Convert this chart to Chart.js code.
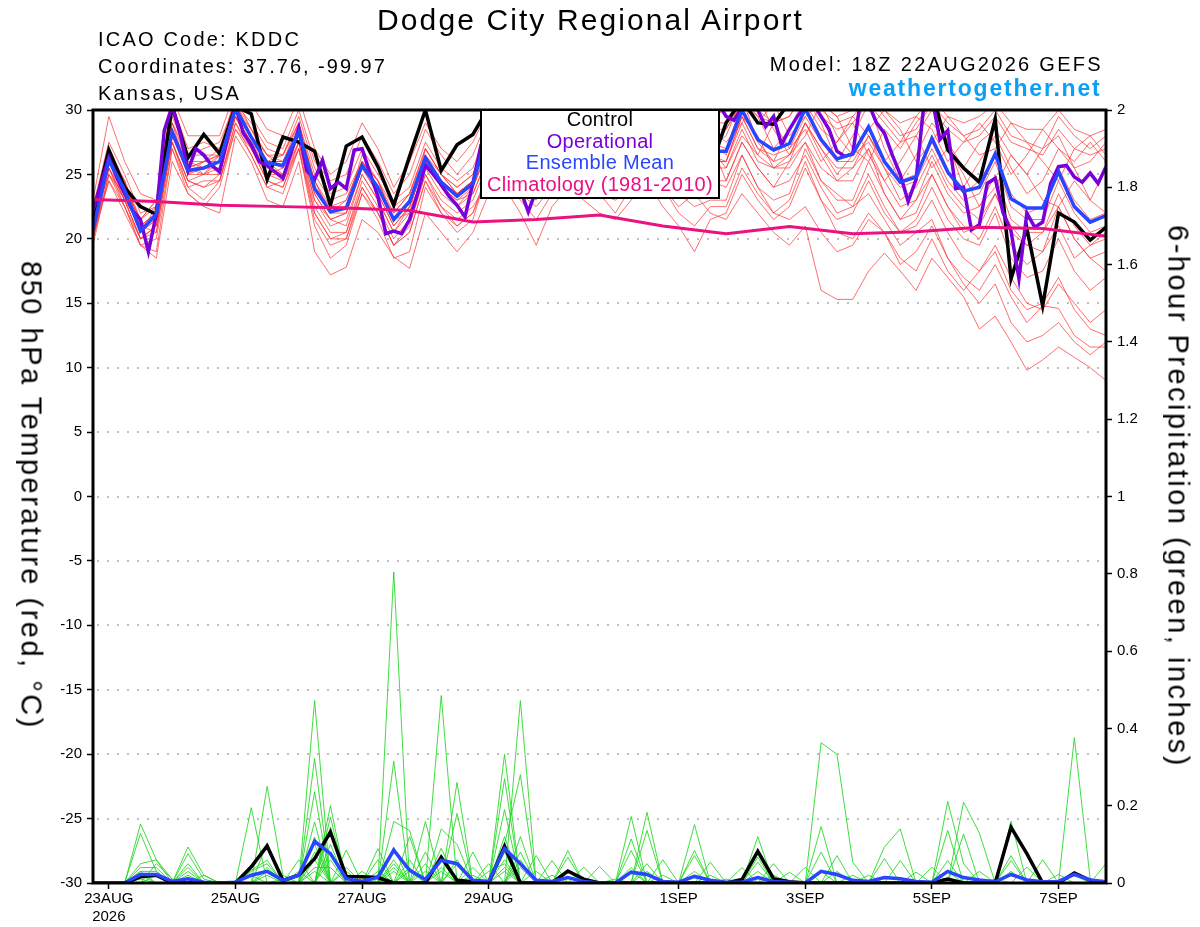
<!DOCTYPE html>
<html>
<head>
<meta charset="utf-8">
<title>Dodge City Regional Airport</title>
<script src="https://cdn.jsdelivr.net/npm/chart.js@4.4.1/dist/chart.umd.min.js"></script>
<style>
  html, body { margin: 0; padding: 0; background: #fff; }
  #wrap { position: relative; width: 1200px; height: 927px; overflow: hidden;
          font-family: 'Liberation Sans', Arial, Helvetica, sans-serif; color: #000; }
  #wrap canvas { position: absolute; left: 0; top: 0; }
  .txt { position: absolute; white-space: nowrap; line-height: 1; }
  #title { left: 0; width: 1181px; top: 4.6px; text-align: center; font-size: 30px; letter-spacing: 2.1px; }
  .info { left: 98px; font-size: 20px; letter-spacing: 2.2px; }
  #model { right: 97px; top: 53.8px; font-size: 20px; letter-spacing: 2.3px; }
  #site { right: 98.5px; top: 77.2px; font-size: 23px; font-weight: bold; letter-spacing: 1.8px; color: #0ba0f8; }
  .axtitle { position: absolute; width: 990px; height: 29px; line-height: 29px; font-size: 29px;
             text-align: center; white-space: nowrap; letter-spacing: 2.5px; transform: rotate(90deg); }
  #legbox { position: absolute; left: 480px; top: 109px; width: 236px; height: 86px;
            border: 2px solid #000; background: #fff; }
  #legtext { position: absolute; left: 480px; top: 108.9px; width: 240px; text-align: center;
             font-size: 20px; line-height: 21.7px; letter-spacing: 0.3px; white-space: nowrap; }
</style>
</head>
<body>
<div id="wrap">
  <canvas id="chart" width="1200" height="927"></canvas>
  <div class="txt" id="title">Dodge City Regional Airport</div>
  <div class="txt info" style="top:28.8px">ICAO Code: KDDC</div>
  <div class="txt info" style="top:55.8px;letter-spacing:2px">Coordinates: 37.76, -99.97</div>
  <div class="txt info" style="top:83.1px">Kansas, USA</div>
  <div class="txt" id="model">Model: 18Z 22AUG2026 GEFS</div>
  <div class="txt" id="site">weathertogether.net</div>
  <div class="axtitle" style="left:-464px;top:480.5px">850 hPa Temperature (red, °C)</div>
  <div class="axtitle" style="left:683px;top:481.5px">6-hour Precipitation (green, inches)</div>
  <div id="legbox"></div>
  <div id="legtext">
    <div style="color:#000">Control</div>
    <div style="color:#7a00d9">Operational</div>
    <div style="color:#2846ff">Ensemble Mean</div>
    <div style="color:#ea1282">Climatology (1981-2010)</div>
  </div>
</div>
<script>
// forecast hours after 18Z 22AUG2026
const FCST_HOURS = [0,6,12,18,24,30,36,42,48,54,60,66,72,78,84,90,96,102,108,114,120,126,132,138,144,150,156,162,168,174,180,186,192,198,204,210,216,222,228,234,240,246,252,258,264,270,276,282,288,294,300,306,312,318,324,330,336,342,348,354,360,366,372,378,384];
const OPER_HOURS = [0,3,6,9,12,15,18,21,24,27,30,33,36,39,42,45,48,51,54,57,60,63,66,69,72,75,78,81,84,87,90,93,96,99,102,105,108,111,114,117,120,123,126,129,132,135,138,141,144,147,150,153,156,159,162,165,168,171,174,177,180,183,186,189,192,195,198,201,204,207,210,213,216,219,222,225,228,231,234,237,240,243,246,249,252,255,258,261,264,267,270,273,276,279,282,285,288,291,294,297,300,303,306,309,312,315,318,321,324,327,330,333,336,339,342,345,348,351,354,357,360,363,366,369,372,375,378,381,384];
const CLIM_HOURS = [0,24,48,72,96,120,144,168,192,216,240,264,288,312,336,360,384];

// x axis labels
const TICK_HOURS = [6, 54, 102, 150, 222, 270, 318, 366];
const TICK_LABELS = [['23AUG', '2026'], '25AUG', '27AUG', '29AUG', '1SEP', '3SEP', '5SEP', '7SEP'];

// 850 hPa temperature (C)
const CLIMATOLOGY = [23.05,22.9,22.6,22.5,22.4,22.2,21.3,21.5,21.85,21.0,20.4,20.95,20.4,20.55,20.9,20.8,20.2];
const CONTROL_T = [21.8,26.9,24.0,22.5,21.9, 30.3,26.3,28.1,26.6,30.3, 29.7,24.6,27.9,27.5,26.8, 22.6,27.2,27.9,25.6,22.6, 26.4,30.0,25.3,27.3,28.1, 30.2,29.0,30.5,29.5,28.0, 29.0,30.0,31.0,30.0,29.0, 30.5,30.0,29.0,28.5,25.5, 29.0,30.8,29.0,28.9,30.6, 31.0,32.0,31.5,32.0,31.0, 32.5,31.5,32.0,31.5,26.9, 25.5,24.4,29.3,16.9,20.8, 14.8,22.0,21.3,19.9,20.9];
const MEAN_T = [20.7,26.1,23.8,20.6,21.9, 28.3,25.3,25.5,26.0,30.1, 27.9,25.9,25.7,28.3,23.9, 22.1,22.4,25.7,24.0,21.5, 22.9,26.3,24.4,23.3,24.3, 28.5,27.5,26.0,25.5,26.5, 27.5,27.0,26.0,25.5,27.0, 28.0,27.0,26.0,25.5,26.8, 26.8,30.0,27.7,26.9,27.4, 30.1,27.7,26.2,26.6,28.7, 26.0,24.4,24.8,27.8,25.2, 23.7,24.0,26.6,23.1,22.4, 22.4,25.2,22.5,21.3,21.8];
const OPERATIONAL_T = [
  22.2,24.3,26.3,24.8,23.5,22.2,21.5,19.0,21.9,28.4,
  30.3,28.2,25.3,27.0,26.5,25.7,25.2,27.9,30.3,28.2,
  27.3,26.0,25.7,25.2,24.7,26.6,28.6,25.3,24.6,26.1,
  23.9,24.4,23.9,26.9,27.0,25.1,23.3,20.4,20.6,20.4,
  21.5,23.5,25.7,25.0,24.2,23.3,22.6,21.7,24.3,27.2,
  27.0,28.5,27.0,25.5,23.8,22.1,23.8,25.5,27.0,28.0,
  27.5,26.5,27.0,28.5,29.5,28.8,27.5,27.0,28.0,29.0,
  29.5,28.5,27.8,28.5,29.5,30.5,29.8,29.0,30.0,30.5,
  29.5,29.2,30.2,31.0,30.0,28.7,29.5,27.3,28.5,29.5,
  30.3,30.5,29.5,28.5,26.8,26.4,26.6,30.8,30.5,29.0,
  28.2,26.5,25.0,22.9,24.6,30.5,31.0,27.7,28.4,23.9,
  24.0,20.7,21.1,24.3,24.7,22.0,20.6,16.9,22.0,20.9,
  21.3,24.3,25.6,25.7,24.8,24.4,25.1,24.3,25.6];

// ensemble members, temperature
const T_M01 = [22.5,27.5,25.0,22.0,22.5, 30.5,27.0,27.5,27.0,31.0, 29.5,27.5,27.0,30.0,26.0, 24.5,25.0,28.0,26.0,23.5, 25.0,28.5,26.5,25.0,26.5, 29.5,30.5,29.0,28.0,29.5, 30.5,31.0,30.0,29.0,30.5, 31.5,30.5,29.5,29.0,29.0, 29.0,31.5,30.0,29.0,29.5, 31.5,30.0,29.0,29.5,31.0, 29.5,28.0,28.5,30.5,29.0, 28.0,28.5,30.0,28.0,27.5, 27.0,29.5,28.0,27.0,28.0];
const T_M02 = [19.5,25.0,22.5,19.5,18.5, 26.0,23.5,22.5,24.0,28.5, 26.5,24.0,23.5,27.0,21.5, 19.5,20.0,23.5,22.0,19.5, 20.5,24.5,22.0,21.0,22.0, 25.0,25.5,24.0,23.5,24.5, 25.0,24.5,23.5,23.0,24.0, 25.0,24.0,22.5,23.5,22.0, 21.5,23.5,22.0,20.5,19.5, 21.0,16.0,15.3,15.3,17.5, 18.9,17.5,16.0,18.5,17.0, 15.5,13.0,14.0,12.0,9.8, 10.6,11.6,10.8,10.0,9.0];
const T_M03 = [21.0,25.5,23.0,20.0,21.0, 27.5,24.5,24.0,25.0,29.5, 27.0,25.0,24.5,27.5,22.5, 20.5,20.5,24.5,22.5,20.0, 21.5,25.0,23.0,22.0,23.0, 26.0,26.5,25.0,24.5,25.5, 26.5,27.0,26.0,25.0,26.5, 27.0,26.0,24.5,24.0,24.5, 24.0,26.5,24.0,22.0,21.5, 22.5,20.5,19.0,19.5,21.5, 20.5,18.0,19.0,21.0,18.5, 17.0,16.0,18.0,15.5,13.5, 14.8,14.6,12.5,11.6,11.6];
const T_M04 = [20.0,26.5,24.5,21.5,23.0, 29.0,25.0,26.0,27.0,30.5, 28.5,26.5,26.0,29.0,24.5, 22.0,22.5,26.5,24.5,21.5, 22.0,27.0,25.0,23.5,24.5, 28.0,28.5,27.0,26.0,28.0, 29.0,30.5,29.0,27.5,29.5, 30.5,29.0,28.5,28.0,27.5, 28.5,30.5,29.0,30.5,28.0, 29.5,30.5,28.0,26.5,28.5, 30.0,28.5,26.0,27.5,29.5, 28.0,26.5,27.0,29.0,27.5, 26.0,24.5,27.0,28.0,26.5];
const T_M05 = [21.5,25.0,23.5,21.0,20.5, 28.0,26.0,25.0,25.5,29.5, 27.5,26.0,25.0,28.0,23.0, 21.5,21.0,25.0,23.0,20.5, 22.5,26.0,24.0,22.5,24.0, 27.0,27.5,26.5,25.0,27.0, 28.0,28.5,27.0,26.5,28.0, 29.0,28.0,27.0,26.0,26.0, 26.0,29.5,27.0,26.5,27.0, 29.5,27.5,26.0,26.0,28.0, 26.0,24.5,25.0,27.5,25.0, 23.5,24.5,26.5,23.5,22.0, 22.5,25.5,23.0,21.5,22.0];
const T_M06 = [20.5,24.5,22.0,19.5,19.0, 27.0,24.0,23.0,24.5,28.5, 27.0,24.5,24.0,27.0,21.0, 18.5,19.5,23.5,21.5,18.5, 19.0,24.0,22.0,20.5,21.5, 25.5,26.0,24.0,23.0,25.0, 26.0,26.5,25.0,24.0,26.5, 27.5,26.0,25.0,25.0,25.5, 25.5,28.5,26.0,25.5,26.0, 29.0,26.5,24.5,24.5,27.0, 24.5,22.5,23.0,26.0,23.5, 22.0,22.5,25.0,21.5,20.5, 20.5,23.5,21.0,19.5,20.0];
const T_M07 = [21.0,27.0,24.5,20.5,22.5, 29.5,26.5,26.5,26.5,31.0, 28.5,26.5,26.5,29.0,25.0, 23.0,23.5,26.0,24.5,22.5, 23.5,27.0,25.0,24.0,25.0, 28.5,29.0,28.0,27.5,28.5, 29.5,30.0,29.0,28.5,29.5, 30.5,29.5,28.5,28.0,28.5, 27.5,29.0,31.0,28.5,26.5, 28.0,30.5,29.5,27.0,26.0, 28.5,27.0,29.0,30.5,27.5, 25.5,27.5,28.5,26.5,25.0, 27.0,28.0,25.5,26.0,27.5];
const T_M08 = [20.0,25.5,23.5,20.5,21.5, 28.0,25.0,25.5,25.5,29.5, 27.5,25.0,25.5,28.0,23.5, 21.5,22.0,25.5,23.5,21.0, 22.5,26.0,24.0,23.0,23.5, 26.5,27.0,25.5,24.5,25.5, 27.0,27.5,26.0,25.0,27.0, 28.0,26.5,25.0,24.5,24.5, 24.5,27.5,25.5,24.0,24.5, 26.5,24.0,22.0,22.5,25.0, 22.5,20.5,21.0,23.0,20.5, 18.5,17.5,19.0,16.0,14.5, 15.0,17.0,14.5,13.0,12.5];
const T_M09 = [22.0,26.0,23.0,21.0,22.0, 28.5,25.5,25.0,26.5,30.0, 28.0,26.0,25.5,28.5,24.0, 22.0,22.0,25.5,24.0,21.5, 23.0,26.5,24.5,23.5,24.5, 27.5,28.0,26.5,26.0,27.0, 28.0,28.5,27.5,26.5,28.0, 29.0,28.0,27.0,26.5,27.0, 25.5,28.0,26.5,29.0,27.0, 28.5,26.0,27.5,29.0,26.5, 24.5,26.0,28.0,25.5,27.0, 25.0,22.5,24.0,26.5,25.0, 23.0,22.5,24.5,23.0,25.5];
const T_M10 = [23.0,29.5,26.0,23.5,23.0, 31.0,28.0,28.0,28.0,31.5, 30.5,28.5,28.0,31.0,27.0, 25.0,26.0,29.0,27.0,24.0, 26.0,29.0,27.0,26.0,27.5, 30.0,31.0,29.5,29.0,30.0, 31.0,32.0,30.5,29.5,31.0, 32.0,31.0,30.0,29.5,29.5, 30.0,32.0,30.5,30.0,30.5, 32.0,30.5,29.5,30.0,31.5, 30.0,29.0,29.5,31.0,29.5, 29.0,29.5,30.5,29.0,28.5, 28.5,30.0,28.5,28.0,28.5];
const T_M11 = [20.0,24.5,22.5,19.5,20.0, 27.0,23.5,22.5,22.0,28.0, 26.0,23.0,22.5,26.0,19.0, 17.2,17.8,21.5,20.5,18.6, 17.7,22.0,20.5,19.0,20.5, 23.5,24.5,23.0,21.5,23.5, 25.0,25.5,24.5,23.5,24.5, 26.0,25.0,23.5,22.5,23.0, 23.0,26.5,24.0,23.0,23.5, 27.0,24.5,23.0,23.0,26.0, 23.5,21.5,22.0,25.0,22.5, 20.5,21.0,23.5,20.5,19.5, 19.0,22.5,20.0,18.5,19.0];
const T_M12 = [21.5,26.5,24.0,21.5,22.5, 29.0,26.0,26.0,26.0,30.5, 28.0,26.5,25.5,28.5,24.5, 22.5,23.0,26.0,24.0,22.0, 23.5,26.5,24.5,23.5,24.5, 27.5,28.0,27.0,26.5,27.5, 28.5,29.0,28.0,27.5,28.5, 29.5,28.5,27.5,27.0,27.0, 28.0,31.0,27.5,26.0,28.5, 31.0,29.0,26.0,28.0,30.5, 27.0,24.5,26.5,29.0,27.5, 24.0,26.0,28.0,25.5,23.5, 24.5,27.0,25.5,23.0,22.0];
const T_M13 = [21.0,25.5,22.5,20.0,21.0, 27.5,24.0,24.5,24.5,29.0, 26.5,24.0,24.5,27.0,22.0, 20.0,20.5,24.0,22.0,19.5, 21.0,25.0,22.5,21.5,22.5, 24.5,24.0,22.0,19.5,22.5, 24.0,23.0,22.0,21.5,23.0, 24.5,22.5,21.0,19.0,21.5, 22.0,25.0,23.0,21.5,22.5, 25.5,23.0,21.5,22.0,24.5, 22.0,20.5,21.5,24.0,21.5, 20.0,19.5,22.0,18.5,17.0, 17.5,20.0,17.5,16.0,17.0];
const T_M14 = [22.0,27.0,24.0,21.0,21.5, 28.5,25.5,26.0,26.5,30.0, 28.5,26.0,26.5,29.0,24.0, 22.0,23.0,26.0,24.5,22.0, 23.5,27.0,25.0,24.0,25.0, 28.0,28.5,27.5,27.0,28.0, 29.0,29.5,28.5,28.0,29.0, 30.0,29.0,28.0,27.5,27.5, 26.5,29.5,28.0,25.5,26.5, 29.0,27.0,25.0,26.5,27.5, 25.5,23.0,24.0,26.5,24.0, 22.5,21.5,23.5,21.0,19.5, 20.5,22.5,20.0,18.5,17.5];
const T_M15 = [20.5,26.0,23.5,20.5,21.5, 28.0,25.0,25.0,26.0,29.5, 27.5,25.5,25.0,28.0,23.5, 21.5,22.0,25.5,23.5,21.0, 22.5,26.0,24.0,23.0,24.0, 27.0,27.5,26.5,26.0,27.0, 28.0,28.5,27.5,26.5,28.0, 28.5,27.5,26.5,26.0,26.5, 26.0,29.0,26.5,25.5,25.5, 27.5,24.5,23.5,22.5,23.5, 21.5,19.5,20.5,21.5,18.5, 16.5,15.0,16.5,13.5,12.0, 12.5,13.5,12.0,11.0,12.0];
const T_M16 = [21.5,26.0,24.5,21.0,22.0, 28.5,26.0,25.5,26.5,30.5, 28.0,26.0,26.0,28.5,24.0, 22.5,22.5,25.5,24.0,21.5, 23.0,26.0,24.5,23.5,24.0, 27.5,27.5,27.0,26.5,27.0, 28.5,29.0,28.5,27.0,28.5, 29.5,28.5,27.5,27.0,27.5, 27.0,30.5,29.5,27.0,28.5, 30.5,28.5,27.5,29.5,28.0, 26.0,27.5,29.5,28.5,26.0, 27.5,29.0,27.5,25.0,26.5, 28.5,27.0,26.0,27.5,26.0];
const T_M17 = [21.0,26.5,24.0,21.5,23.0, 29.0,26.5,27.0,27.5,30.5, 29.0,27.0,26.5,29.5,25.5, 23.5,24.0,27.0,25.0,23.0, 24.0,27.5,25.5,24.5,25.5, 28.5,29.5,28.0,27.5,28.5, 29.5,30.5,29.5,28.5,30.0, 31.0,30.0,29.0,28.5,28.5, 28.5,31.0,29.5,29.0,29.5, 31.5,29.5,28.5,29.0,30.5, 29.0,27.5,28.0,30.0,28.5, 27.5,28.0,29.5,27.5,27.0, 26.5,28.5,27.0,26.5,27.0];
const T_M18 = [20.0,25.0,23.0,20.0,20.5, 27.5,24.5,24.0,24.5,29.0, 27.0,24.5,24.0,27.5,22.0, 20.0,20.0,24.0,22.0,19.5, 20.5,24.5,22.5,21.0,22.0, 25.5,25.0,23.5,22.5,24.0, 25.0,24.0,23.5,22.0,24.0, 25.5,24.0,22.0,21.0,22.5, 22.5,25.5,23.5,22.0,23.0, 26.0,23.0,20.5,20.0,22.0, 20.5,18.5,17.5,20.0,17.5, 16.0,17.5,19.5,17.0,15.0, 14.5,16.5,15.0,13.5,14.5];
const T_M19 = [22.0,26.5,23.5,21.0,22.0, 28.5,25.5,26.0,26.5,30.0, 28.0,26.0,26.0,28.5,24.5, 22.0,22.5,26.0,24.5,21.5, 23.0,26.5,25.0,23.5,24.5, 27.5,28.5,27.5,26.5,27.5, 28.5,29.5,28.5,27.5,28.5, 29.5,29.0,28.0,27.5,27.5, 24.5,27.5,25.5,24.0,26.0, 27.5,25.5,24.5,25.5,27.0, 23.5,21.5,23.0,25.0,22.5, 21.0,20.0,22.5,19.5,18.0, 19.0,21.0,18.5,19.5,20.5];
const T_M20 = [20.5,25.5,23.0,20.0,21.0, 27.5,24.5,25.0,25.0,29.5, 27.0,25.0,25.0,27.5,23.0, 21.0,21.5,25.0,23.0,20.5, 22.0,25.5,23.5,22.5,23.5, 26.5,27.0,26.0,25.5,26.5, 27.5,28.0,27.0,26.0,27.5, 28.5,27.5,26.5,26.0,26.0, 26.0,29.5,27.0,26.0,26.5, 29.0,27.0,25.5,25.5,28.0, 25.5,24.0,24.5,27.0,24.5, 23.0,23.5,26.0,22.5,21.5, 21.5,24.5,22.0,20.5,21.0];

// 6-hour precipitation (inches)
const CONTROL_P = [0,0,0,0.016,0.02, 0,0,0,0,0, 0.042,0.096,0.007,0.02,0.063, 0.132,0.017,0.016,0.014,0, 0,0,0.067,0.007,0.003, 0,0.095,0,0,0, 0.031,0.01,0,0,0, 0,0,0,0,0, 0,0.009,0.082,0.011,0.003, 0,0,0,0,0, 0,0,0,0,0.01, 0,0,0,0.144,0.076, 0,0,0.026,0.007,0];
const MEAN_P = [0,0,0,0.022,0.022, 0.004,0.011,0.002,0,0.002, 0.02,0.03,0.007,0.02,0.108, 0.076,0.011,0.004,0.015,0.085, 0.033,0.009,0.059,0.05,0.007, 0.004,0.089,0.05,0.007,0.004, 0.014,0.004,0,0,0.028, 0.022,0.004,0.002,0.017,0.007, 0.002,0.002,0.014,0.004,0.002, 0,0.03,0.022,0.007,0.004, 0.014,0.011,0.004,0.002,0.03, 0.014,0.008,0.003,0.022,0.008, 0.003,0.004,0.022,0.008,0.003];

// ensemble members, precipitation
const P_M01 = [0,0,0,0.153,0.06, 0,0,0,0,0.005, 0,0.02,0,0,0.236, 0,0,0,0.03,0, 0,0,0.03,0,0, 0,0.333,0,0,0, 0,0,0,0,0, 0.03,0,0,0,0, 0,0.01,0,0,0, 0,0,0,0,0, 0,0,0.028,0,0, 0,0,0,0,0, 0,0,0,0,0];
const P_M02 = [0,0,0,0.128,0.03, 0,0,0,0,0, 0.02,0,0,0,0.04, 0.04,0,0,0,0.805, 0,0,0,0,0, 0,0,0.04,0,0, 0,0,0,0.01,0, 0,0,0,0,0, 0,0,0.12,0,0, 0,0,0,0,0, 0,0,0,0.041,0, 0,0,0,0,0, 0,0,0,0,0];
const P_M03 = [0,0,0,0.05,0.06, 0.01,0,0,0,0, 0.03,0.05,0,0,0.03, 0,0.04,0,0,0.315, 0,0,0,0,0, 0,0.08,0,0,0, 0.084,0,0,0,0, 0,0,0,0,0, 0,0,0.067,0,0, 0,0,0,0,0, 0,0,0,0,0.211, 0.05,0,0,0,0, 0,0,0,0,0];
const P_M04 = [0,0,0,0.04,0.04, 0,0.04,0,0,0, 0,0,0,0,0.158, 0,0,0,0,0.159, 0.136,0,0,0,0, 0,0,0.06,0,0, 0,0,0,0,0.172, 0,0,0,0,0, 0,0,0.054,0,0, 0,0,0,0,0, 0,0,0,0,0.136, 0,0,0,0,0, 0,0,0,0,0];
const P_M05 = [0,0,0,0.03,0.03, 0,0.05,0,0,0, 0,0,0.01,0,0.119, 0,0,0,0,0.093, 0,0,0,0,0.02, 0,0.06,0,0,0, 0,0,0,0,0.114, 0,0,0,0,0, 0,0,0.03,0,0, 0,0,0,0,0, 0,0,0,0,0.058, 0,0,0,0,0, 0,0,0,0,0];
const P_M06 = [0,0,0,0.02,0, 0,0.02,0,0,0, 0,0,0,0.02,0.1, 0,0,0,0,0.06, 0,0,0,0,0, 0.03,0.05,0,0,0.02, 0,0,0,0,0.084, 0,0,0,0,0, 0,0,0,0.05,0, 0,0,0,0,0, 0,0,0,0,0.03, 0,0,0,0,0, 0,0,0,0,0];
const P_M07 = [0,0,0,0.03,0, 0,0,0,0,0, 0,0.04,0,0,0.08, 0,0,0,0.02,0, 0,0.159,0,0,0, 0,0.27,0,0,0, 0,0,0,0,0.04, 0,0,0,0,0, 0,0,0,0.02,0, 0,0,0,0,0, 0,0,0,0,0, 0.209,0.129,0,0,0, 0,0,0,0,0];
const P_M08 = [0,0,0,0.01,0, 0,0,0,0,0, 0,0.03,0,0,0.06, 0,0,0,0,0.05, 0,0,0,0.06,0, 0,0.19,0,0,0, 0,0,0,0,0, 0.183,0,0,0,0, 0,0,0,0,0.028, 0,0,0,0,0, 0,0,0,0,0, 0.127,0,0,0,0, 0,0,0,0,0];
const P_M09 = [0,0,0,0,0.05, 0.01,0,0,0,0, 0,0,0,0,0, 0.17,0,0,0,0.04, 0,0,0,0.05,0, 0,0.12,0,0,0, 0.067,0,0,0,0, 0.136,0,0,0,0, 0,0,0,0,0, 0.041,0,0,0,0, 0,0,0,0,0, 0,0.03,0,0,0, 0,0,0,0,0];
const P_M10 = [0,0,0,0,0.02, 0,0,0,0,0, 0,0,0,0,0, 0.145,0,0,0,0.03, 0,0,0.485,0,0, 0,0,0,0,0, 0,0.041,0,0,0, 0,0,0,0,0, 0,0,0,0,0, 0,0.363,0.333,0.054,0, 0,0,0,0,0, 0,0,0.01,0,0, 0,0,0,0,0];
const P_M11 = [0,0,0,0,0, 0,0.093,0.02,0,0, 0,0,0,0,0, 0.1,0,0,0,0, 0.04,0,0.14,0.1,0, 0,0,0,0.03,0, 0,0,0,0,0, 0,0.06,0,0,0, 0,0,0,0,0, 0,0.146,0,0,0, 0,0,0,0,0, 0,0,0,0.16,0, 0,0,0,0,0];
const P_M12 = [0,0,0,0,0, 0,0.076,0.01,0,0, 0,0,0,0,0, 0.08,0,0,0,0, 0.12,0,0,0,0, 0,0.1,0.28,0,0, 0,0,0,0,0, 0,0.02,0,0,0, 0,0,0,0,0, 0,0.08,0,0,0, 0,0,0,0,0, 0,0,0,0.071,0, 0,0,0,0,0];
const P_M13 = [0,0,0,0,0, 0,0.03,0,0,0, 0,0.102,0,0,0, 0.06,0,0,0,0, 0.06,0,0,0.26,0, 0,0.04,0,0,0, 0.03,0,0,0,0, 0,0,0,0.151,0, 0,0,0,0,0, 0,0.03,0,0,0, 0,0,0,0,0, 0,0,0,0.058,0, 0,0,0,0,0];
const P_M14 = [0,0,0,0,0, 0,0,0.02,0,0, 0,0.25,0.02,0,0, 0,0,0.03,0,0, 0.03,0,0,0.18,0, 0,0,0,0,0, 0,0,0,0,0, 0,0,0,0.084,0, 0,0,0,0,0, 0,0,0.071,0,0, 0,0,0,0,0, 0,0,0,0.03,0, 0,0,0,0,0];
const P_M15 = [0,0,0,0,0, 0,0,0,0,0, 0.195,0,0,0,0, 0,0,0.01,0,0, 0,0.08,0,0,0.08, 0,0,0,0,0, 0,0,0.043,0,0, 0,0,0,0.071,0, 0,0,0,0,0, 0,0,0.03,0,0, 0,0,0,0,0, 0,0,0,0,0.041, 0,0,0,0,0];
const P_M16 = [0,0,0,0,0, 0,0,0,0,0, 0.033,0.059,0,0,0, 0,0,0,0.089,0, 0,0.05,0,0,0.04, 0,0,0.472,0,0, 0,0,0,0,0, 0,0,0,0.03,0, 0,0,0,0,0, 0,0,0,0.02,0, 0,0,0,0,0, 0,0,0,0,0, 0.06,0,0,0,0];
const P_M17 = [0,0,0,0,0, 0,0,0,0,0, 0,0,0,0.06,0, 0,0,0,0.06,0, 0,0.03,0,0,0, 0.05,0,0,0.071,0, 0,0,0,0,0, 0,0,0,0,0.054, 0,0,0,0,0, 0,0,0,0,0.02, 0,0,0,0,0, 0,0,0,0,0, 0,0.022,0,0,0];
const P_M18 = [0,0,0,0,0, 0,0,0,0,0, 0,0,0,0.03,0, 0.2,0,0,0,0, 0,0,0.09,0,0, 0,0.03,0,0,0.058, 0,0,0,0,0, 0,0,0,0,0.02, 0,0,0,0,0, 0,0,0,0,0, 0.093,0.14,0,0,0, 0,0,0,0,0, 0,0,0.376,0.01,0];
const P_M19 = [0,0,0,0,0, 0,0,0,0,0, 0,0,0,0,0.472, 0,0.03,0,0,0, 0,0,0.06,0,0, 0,0,0.12,0,0, 0,0,0,0,0.03, 0,0,0,0,0, 0.01,0,0,0,0, 0,0,0,0,0, 0.063,0,0,0,0, 0,0,0,0,0, 0,0,0.02,0,0];
const P_M20 = [0,0,0,0,0, 0,0,0,0,0, 0,0,0,0,0.322, 0,0.085,0,0,0, 0,0,0.04,0,0, 0,0,0.08,0,0, 0,0,0,0,0, 0.05,0,0,0,0, 0,0.04,0,0,0, 0,0,0,0,0, 0,0.058,0,0,0, 0,0,0,0,0, 0,0,0,0,0.05];

const TEMP_MEMBERS = [T_M01,T_M02,T_M03,T_M04,T_M05,T_M06,T_M07,T_M08,T_M09,T_M10,T_M11,T_M12,T_M13,T_M14,T_M15,T_M16,T_M17,T_M18,T_M19,T_M20];
const PRECIP_MEMBERS = [P_M01,P_M02,P_M03,P_M04,P_M05,P_M06,P_M07,P_M08,P_M09,P_M10,P_M11,P_M12,P_M13,P_M14,P_M15,P_M16,P_M17,P_M18,P_M19,P_M20];

const COLOR_RED = 'rgba(255,50,50,0.7)';
const COLOR_GREEN = 'rgba(30,215,30,0.85)';
const COLOR_OPER = '#7a00d9';
const COLOR_MEAN = '#2846ff';
const COLOR_CLIM = '#ea1282';

Chart.defaults.font.family = "'Liberation Sans', Arial, Helvetica, sans-serif";
Chart.defaults.color = '#000';

function pairs(hours, values) {
  return values.map((v, i) => ({ x: hours[i], y: v }));
}

function line(label, hours, values, color, width, axis) {
  return {
    label, data: pairs(hours, values), yAxisID: axis,
    borderColor: color, borderWidth: width,
    pointRadius: 0, fill: false, tension: 0
  };
}

// first dataset is drawn on top
const datasets = [
  line('Climatology (1981-2010)', CLIM_HOURS, CLIMATOLOGY, COLOR_CLIM, 3, 'y'),
  line('Ensemble Mean', FCST_HOURS, MEAN_T, COLOR_MEAN, 3.5, 'y'),
  line('Operational', OPER_HOURS, OPERATIONAL_T, COLOR_OPER, 3.5, 'y'),
  line('Control', FCST_HOURS, CONTROL_T, '#000', 3.5, 'y'),
  line('Ensemble Mean precip', FCST_HOURS, MEAN_P, COLOR_MEAN, 3.5, 'y1'),
  line('Control precip', FCST_HOURS, CONTROL_P, '#000', 3.5, 'y1'),
  ...PRECIP_MEMBERS.map((m, k) => line('precip member ' + (k + 1), FCST_HOURS, m, COLOR_GREEN, 1, 'y1')),
  ...TEMP_MEMBERS.map((m, k) => line('temp member ' + (k + 1), FCST_HOURS, m, COLOR_RED, 1, 'y'))
];

// dotted grid at the temperature ticks, black frame round the plot
const framePlugin = {
  id: 'frame',
  beforeDatasetsDraw(chart) {
    const { ctx, chartArea: a, scales } = chart;
    ctx.save();
    ctx.strokeStyle = '#aaaaaa';
    ctx.lineWidth = 1.5;
    ctx.setLineDash([2, 8]);
    scales.y.ticks.forEach(t => {
      if (t.value <= -30 || t.value >= 30) return;
      const py = Math.round(scales.y.getPixelForValue(t.value));
      ctx.beginPath();
      ctx.moveTo(a.left + 4, py);
      ctx.lineTo(a.right, py);
      ctx.stroke();
    });
    ctx.restore();
  },
  afterDatasetsDraw(chart) {
    const { ctx, chartArea: a } = chart;
    ctx.save();
    ctx.strokeStyle = '#000';
    ctx.lineWidth = 3;
    ctx.strokeRect(a.left, a.top, a.right - a.left, a.bottom - a.top);
    ctx.restore();
  }
};

const tickGrid = { drawOnChartArea: false, drawTicks: true, tickLength: 6, tickColor: '#000', tickWidth: 1.5 };
const tickFont = { size: 15 };

new Chart(document.getElementById('chart'), {
  type: 'line',
  data: { datasets },
  options: {
    responsive: false,
    animation: false,
    devicePixelRatio: 1,
    layout: { padding: { top: 110, left: 0, right: 0, bottom: 0 } },
    plugins: { legend: { display: false }, tooltip: { enabled: false } },
    scales: {
      x: {
        type: 'linear', min: 0, max: 384,
        afterFit(s) { s.height = 44; },
        afterBuildTicks(s) { s.ticks = TICK_HOURS.map(v => ({ value: v })); },
        ticks: {
          autoSkip: false, maxRotation: 0, padding: 1, font: tickFont, color: '#000',
          callback: v => TICK_LABELS[TICK_HOURS.indexOf(v)]
        },
        grid: tickGrid,
        border: { display: false }
      },
      y: {
        position: 'left', min: -30, max: 30,
        afterFit(s) { s.width = 93; },
        ticks: { stepSize: 5, padding: 5, font: tickFont, color: '#000' },
        grid: tickGrid,
        border: { display: false }
      },
      y1: {
        position: 'right', min: 0, max: 2,
        afterFit(s) { s.width = 94; },
        ticks: { stepSize: 0.2, padding: 5, font: tickFont, color: '#000',
                 callback: v => String(Math.round(v * 10) / 10) },
        grid: tickGrid,
        border: { display: false }
      }
    }
  },
  plugins: [framePlugin]
});
</script>
</body>
</html>
